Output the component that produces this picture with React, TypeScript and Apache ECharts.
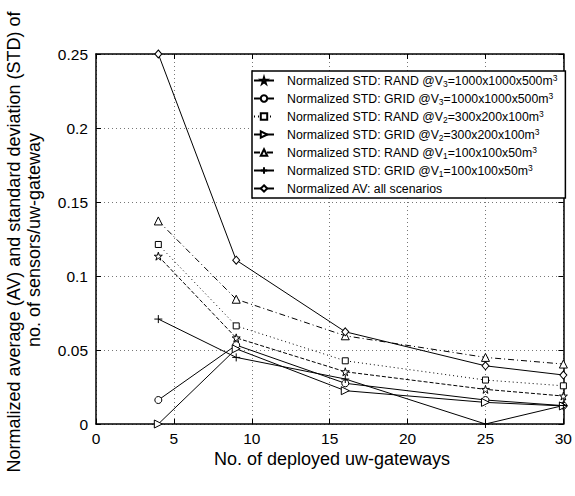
import React, { useEffect, useRef } from "react";
import * as echarts from "echarts";

const xValues = [4, 9, 16, 25, 30];
const xTicks = [0, 5, 10, 15, 20, 25, 30];
const yTicks = [0, 0.05, 0.1, 0.15, 0.2, 0.25];

const stdRandV3 = [0.1134, 0.0582, 0.0353, 0.0234, 0.0189];
const stdGridV3 = [0.0162, 0.0533, 0.0275, 0.0162, 0.0124];
const stdRandV2 = [0.1213, 0.0663, 0.0427, 0.0297, 0.0258];
const stdGridV2 = [0.0, 0.0508, 0.0225, 0.0146, 0.0122];
const stdRandV1 = [0.1372, 0.0843, 0.0596, 0.045, 0.0405];
const stdGridV1 = [0.0709, 0.045, 0.0304, 0.0, 0.0125];
const avAll = [0.25, 0.1107, 0.0623, 0.0393, 0.0331];

const seriesNames = [
  "Normalized STD: RAND @V3=1000x1000x500m3",
  "Normalized STD: GRID @V3=1000x1000x500m3",
  "Normalized STD: RAND @V2=300x200x100m3",
  "Normalized STD: GRID @V2=300x200x100m3",
  "Normalized STD: RAND @V1=100x100x50m3",
  "Normalized STD: GRID @V1=100x100x50m3",
  "Normalized AV: all scenarios",
];
const legendRich = [
  "Normalized STD: RAND @V{sub|3}=1000x1000x500m{sup|3}",
  "Normalized STD: GRID @V{sub|3}=1000x1000x500m{sup|3}",
  "Normalized STD: RAND @V{sub|2}=300x200x100m{sup|3}",
  "Normalized STD: GRID @V{sub|2}=300x200x100m{sup|3}",
  "Normalized STD: RAND @V{sub|1}=100x100x50m{sup|3}",
  "Normalized STD: GRID @V{sub|1}=100x100x50m{sup|3}",
  "Normalized AV: all scenarios",
];

const FONT = "'Liberation Sans', Arial, Helvetica, sans-serif";
const STAR =
  "path://M50,0 L61,35 L98,35 L68,57 L79,91 L50,70 L21,91 L32,57 L2,35 L39,35 Z";
const PLUS = "path://M5,0L5,10M0,5L10,5";

export default function App() {
  const ref = useRef<HTMLDivElement>(null);
  useEffect(() => {
    if (!ref.current) return;
    const chart = echarts.init(ref.current, undefined, { renderer: "svg" });
    const dataSets = [stdRandV3, stdGridV3, stdRandV2, stdGridV2, stdRandV1, stdGridV1, avAll];
    const symbols = [STAR, "circle", "rect", "triangle", "triangle", PLUS, "diamond"];
    const rotates = [0, 0, 0, -90, 0, 0, 0];
    const sizes: any[] = [8, 7, 6, 8, 8, 8, [7, 8]];
    const dashes: any[] = ["dashed", "solid", [1, 3], "solid", [6, 3, 1, 3], "solid", "solid"];
    const series = dataSets.map((d, i) => ({
      name: seriesNames[i],
      type: "line",
      xAxisIndex: 0,
      yAxisIndex: 0,
      data: d.map((v, j) => [xValues[j], v]),
      symbol: symbols[i],
      symbolRotate: rotates[i],
      symbolSize: sizes[i],
      showAllSymbol: true,
      lineStyle: { color: "#000", width: 1, type: dashes[i] },
      itemStyle: { color: "#fff", borderColor: "#000", borderWidth: 1 },
      emphasis: { disabled: true },
    }));
    const axisCommon = {
      axisLine: { show: true, onZero: false, lineStyle: { color: "#000", width: 1.5 } },
      axisTick: { show: true, inside: true, length: 5, lineStyle: { color: "#000", width: 1 } },
    };
    chart.setOption({
      animation: false,
      backgroundColor: "#fff",
      grid: { left: 96, right: 8.5, top: 54, bottom: 72, containLabel: false },
      xAxis: [
        {
          type: "value",
          min: 0,
          max: 30,
          interval: 5,
          position: "bottom",
          ...axisCommon,
          axisLabel: { fontSize: 15.5, fontFamily: FONT, color: "#000", margin: 7, lineHeight: 15 },
          splitLine: { show: true, lineStyle: { color: "#777", type: [1, 3], width: 1 } },
        },
        {
          type: "value",
          min: 0,
          max: 30,
          interval: 5,
          position: "top",
          ...axisCommon,
          axisLabel: { show: false },
          splitLine: { show: false },
        },
      ],
      yAxis: [
        {
          type: "value",
          min: 0,
          max: 0.25,
          interval: 0.05,
          position: "left",
          ...axisCommon,
          axisLabel: {
            fontSize: 15.5,
            fontFamily: FONT,
            color: "#000",
            margin: 8,
            formatter: (v: number) => String(+v.toFixed(2)),
          },
          splitLine: { show: true, lineStyle: { color: "#777", type: [1, 3], width: 1 } },
        },
        {
          type: "value",
          min: 0,
          max: 0.25,
          interval: 0.05,
          position: "right",
          ...axisCommon,
          axisLabel: { show: false },
          splitLine: { show: false },
        },
      ],
      legend: {
        data: seriesNames,
        orient: "vertical",
        left: 252,
        top: 71,
        padding: [2, 8, 2, 1],
        itemGap: 3,
        itemWidth: 20,
        itemHeight: 8,
        backgroundColor: "#fff",
        borderColor: "#000",
        borderWidth: 1.5,
        selectedMode: false,
        formatter: (name: string) => legendRich[seriesNames.indexOf(name)],
        textStyle: {
          fontSize: 12.3,
          fontFamily: FONT,
          color: "#000",
          lineHeight: 15,
          padding: [0, 0, 0, 8],
          rich: {
            sub: { fontSize: 8.5, fontFamily: FONT, color: "#000", verticalAlign: "bottom", lineHeight: 9 },
            sup: { fontSize: 8.5, fontFamily: FONT, color: "#000", verticalAlign: "top", lineHeight: 9 },
          },
        },
      },
      graphic: [
        {
          type: "text",
          x: 14,
          y: 242,
          rotation: Math.PI / 2,
          style: {
            text: "Normalized average (AV) and standard deviation (STD) of",
            fontSize: 18,
            fontFamily: FONT,
            fill: "#000",
            textAlign: "center",
            textVerticalAlign: "middle",
          },
        },
        {
          type: "text",
          x: 34,
          y: 240,
          rotation: Math.PI / 2,
          style: {
            text: "no. of sensors/uw-gateway",
            fontSize: 18,
            fontFamily: FONT,
            fill: "#000",
            textAlign: "center",
            textVerticalAlign: "middle",
          },
        },
        {
          type: "text",
          x: 332,
          y: 459,
          style: {
            text: "No. of deployed uw-gateways",
            fontSize: 18,
            fontFamily: FONT,
            fill: "#000",
            textAlign: "center",
            textVerticalAlign: "middle",
          },
        },
      ],
      series,
    });
    return () => chart.dispose();
  }, []);
  return (
    <div
      ref={ref}
      style={{ position: "fixed", left: 0, top: 0, width: 575, height: 496 }}
    />
  );
}
